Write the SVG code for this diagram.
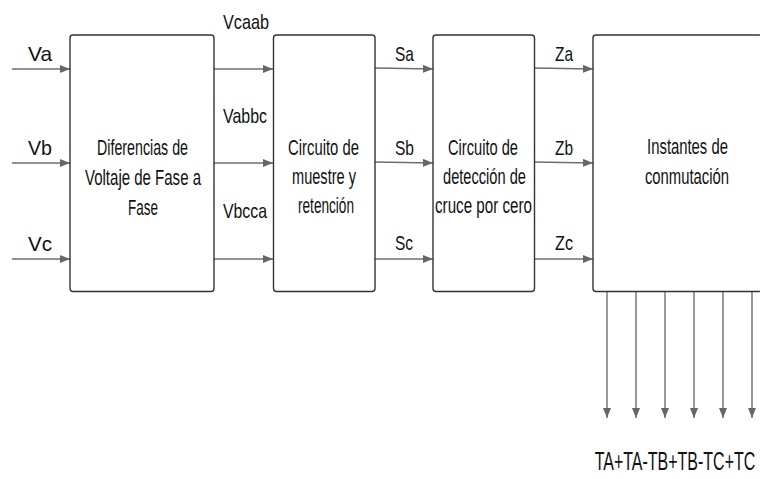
<svg xmlns="http://www.w3.org/2000/svg" width="760" height="479" viewBox="0 0 760 479">
<style>
text{font-family:"Liberation Sans",Arial,sans-serif;font-size:21px;fill:#111}
.in{font-size:22px}
.big{font-size:25px}
.mid{text-anchor:middle}
.box{fill:#fff;stroke:#333;stroke-width:1.4}
.c{fill:none;stroke:#6e6e6e;stroke-width:1.4}
</style>
<defs>
<marker id="ah" markerWidth="10" markerHeight="8" refX="10" refY="4" orient="auto" markerUnits="userSpaceOnUse">
<path d="M0,0 L10,4 L0,8 Z" fill="#666"/>
</marker>
</defs>
<rect width="760" height="479" fill="#fff"/>
<g id="connectors">
<line class="c" x1="12" y1="69" x2="70" y2="69" marker-end="url(#ah)"/>
<line class="c" x1="12" y1="163" x2="70" y2="163" marker-end="url(#ah)"/>
<line class="c" x1="12" y1="259" x2="70" y2="259" marker-end="url(#ah)"/>
<line class="c" x1="214" y1="69" x2="273" y2="69" marker-end="url(#ah)"/>
<line class="c" x1="214" y1="163" x2="273" y2="163" marker-end="url(#ah)"/>
<line class="c" x1="214" y1="259" x2="273" y2="259" marker-end="url(#ah)"/>
<line class="c" x1="375" y1="68" x2="433" y2="69" marker-end="url(#ah)"/>
<line class="c" x1="375" y1="162" x2="433" y2="163" marker-end="url(#ah)"/>
<line class="c" x1="375" y1="259" x2="433" y2="259" marker-end="url(#ah)"/>
<line class="c" x1="534" y1="68" x2="593" y2="69" marker-end="url(#ah)"/>
<line class="c" x1="534" y1="162" x2="593" y2="163" marker-end="url(#ah)"/>
<line class="c" x1="534" y1="259" x2="593" y2="259" marker-end="url(#ah)"/>
<line class="c" x1="607" y1="292" x2="607" y2="418" marker-end="url(#ah)"/>
<line class="c" x1="636" y1="292" x2="636" y2="418" marker-end="url(#ah)"/>
<line class="c" x1="665" y1="292" x2="665" y2="418" marker-end="url(#ah)"/>
<line class="c" x1="694" y1="292" x2="694" y2="418" marker-end="url(#ah)"/>
<line class="c" x1="723" y1="292" x2="723" y2="418" marker-end="url(#ah)"/>
<line class="c" x1="752" y1="292" x2="752" y2="418" marker-end="url(#ah)"/>
</g>
<g id="labels">
<text x="28" y="61" textLength="24" lengthAdjust="spacingAndGlyphs">Va</text>
<text x="28" y="155" textLength="24" lengthAdjust="spacingAndGlyphs">Vb</text>
<text x="28" y="251" textLength="24" lengthAdjust="spacingAndGlyphs">Vc</text>
<text x="223" y="29" textLength="46" lengthAdjust="spacingAndGlyphs">Vcaab</text>
<text x="223" y="123" textLength="44" lengthAdjust="spacingAndGlyphs">Vabbc</text>
<text x="223" y="218" textLength="44" lengthAdjust="spacingAndGlyphs">Vbcca</text>
<text x="395" y="61" textLength="19" lengthAdjust="spacingAndGlyphs">Sa</text>
<text x="395" y="155" textLength="19" lengthAdjust="spacingAndGlyphs">Sb</text>
<text x="395" y="250" textLength="18" lengthAdjust="spacingAndGlyphs">Sc</text>
<text x="555" y="61" textLength="18" lengthAdjust="spacingAndGlyphs">Za</text>
<text x="555" y="155" textLength="18" lengthAdjust="spacingAndGlyphs">Zb</text>
<text x="555" y="250" textLength="18" lengthAdjust="spacingAndGlyphs">Zc</text>
<text class="big mid" transform="translate(675,470) scale(0.64,1)">TA+TA-TB+TB-TC+TC</text>
</g>
<g id="node-diferencias">
<rect class="box" x="70" y="35" width="144" height="256.5" rx="3"/>
<text class="in" x="97" y="155" textLength="91" lengthAdjust="spacingAndGlyphs">Diferencias de</text>
<text class="in" x="85" y="185" textLength="116" lengthAdjust="spacingAndGlyphs">Voltaje de Fase a</text>
<text class="in" x="128" y="215" textLength="30" lengthAdjust="spacingAndGlyphs">Fase</text>
</g>
<g id="node-muestreo">
<rect class="box" x="273.5" y="35" width="101.5" height="256.5" rx="3"/>
<text class="in" x="288" y="155" textLength="71" lengthAdjust="spacingAndGlyphs">Circuito de</text>
<text class="in" x="292" y="184" textLength="64" lengthAdjust="spacingAndGlyphs">muestre y</text>
<text class="in" x="298" y="213" textLength="56" lengthAdjust="spacingAndGlyphs">retención</text>
</g>
<g id="node-cruce">
<rect class="box" x="433" y="35" width="101.5" height="256.5" rx="3"/>
<text class="in" x="448" y="155" textLength="70" lengthAdjust="spacingAndGlyphs">Circuito de</text>
<text class="in" x="443" y="184" textLength="83" lengthAdjust="spacingAndGlyphs">detección de</text>
<text class="in" x="435" y="213" textLength="97" lengthAdjust="spacingAndGlyphs">cruce por cero</text>
</g>
<g id="node-instantes">
<rect class="box" x="593" y="35" width="169" height="256.5" rx="3"/>
<text class="in mid" transform="translate(687.5,154) scale(0.675,1)">Instantes de</text>
<text class="in mid" transform="translate(687,184) scale(0.675,1)">conmutación</text>
</g>
</svg>
